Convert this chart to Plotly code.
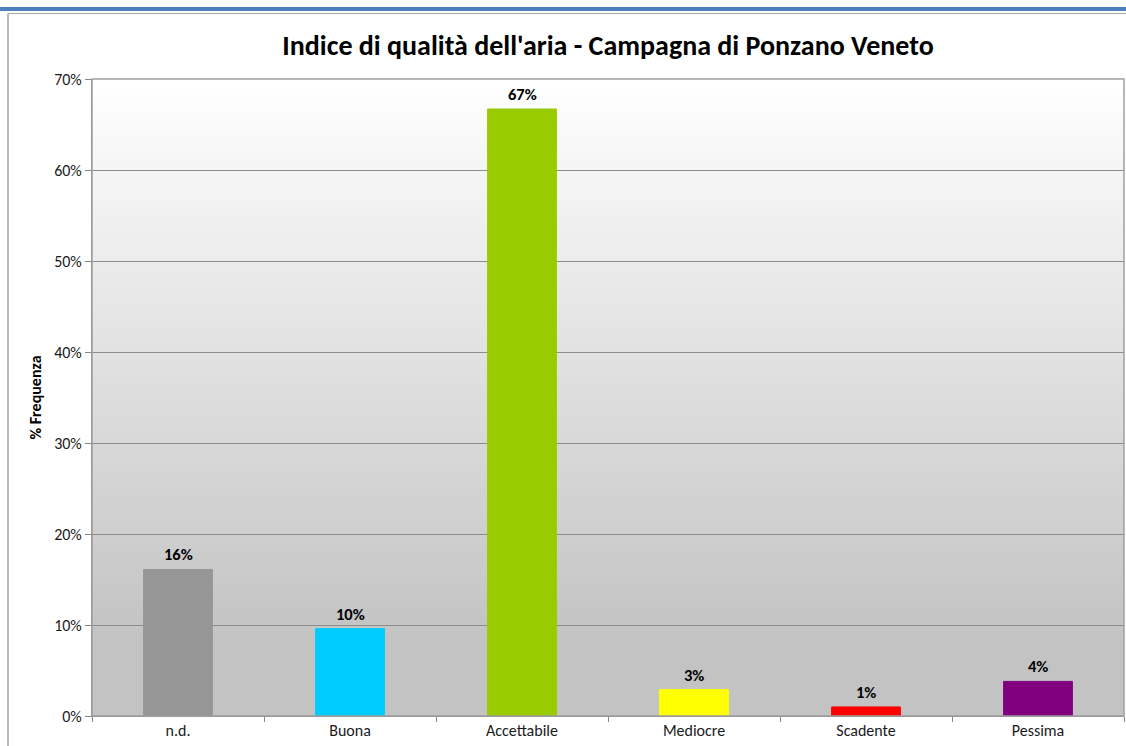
import plotly.graph_objects as go

categories = ["n.d.", "Buona", "Accettabile", "Mediocre", "Scadente", "Pessima"]
values = [16.1, 9.6, 66.7, 2.9, 1.0, 3.8]
bar_colors = ["#969696", "#00ccff", "#99cc00", "#ffff00", "#ff0000", "#800080"]
y_ticks = [0, 10, 20, 30, 40, 50, 60, 70]
y_tick_labels = ["0%", "10%", "20%", "30%", "40%", "50%", "60%", "70%"]
labels = [f"{round(v)}%" for v in values]

FONT = "Carlito, Lato, 'Open Sans', sans-serif"

fig = go.Figure()
fig.add_trace(go.Bar(
    x=categories, y=values, width=0.4,
    marker=dict(color=bar_colors, line=dict(color=bar_colors, width=1)),
    hoverinfo="skip",
))

annotations = [
    dict(x=c, y=v, xref="x", yref="y", text=f"<b>{t}</b>", showarrow=False,
         yanchor="bottom", yshift=3,
         font=dict(family=FONT, size=16.5, color="#000000"))
    for c, v, t in zip(categories, values, labels)
]

# gradient background strips (white top -> grey bottom)
shapes = []
n = 80
top_c = (255, 255, 255)
bot_c = (195, 195, 195)
for i in range(n):
    y0 = i / n
    y1 = (i + 1) / n
    t = 1 - (y0 + y1) / 2  # 0 at top, 1 at bottom
    f = min(1.0, t / 0.88)
    c = tuple(round(top_c[k] + (bot_c[k] - top_c[k]) * f) for k in range(3))
    shapes.append(dict(type="rect", xref="paper", yref="paper", x0=0, x1=1, y0=y0, y1=y1 + 0.002,
                       fillcolor=f"rgb{c}", line=dict(width=0), layer="below"))

W, H = 1126, 746
L, R, T, B = 92, 2, 79, 30
pw, ph = W - L - R, H - T - B

def px(x):
    return (x - L) / pw

def py(y):
    return (H - B - y) / ph

# plot area border
shapes.append(dict(type="rect", xref="paper", yref="paper", x0=0, x1=1, y0=0, y1=1,
                   line=dict(color="#a0a0a0", width=1.5), layer="above"))
# blue top band and frame lines
shapes.append(dict(type="line", xref="paper", yref="paper", x0=px(-5), x1=px(1130), y0=py(9), y1=py(9),
                   line=dict(color="#4f81bd", width=4)))
shapes.append(dict(type="line", xref="paper", yref="paper", x0=px(8), x1=px(1130), y0=py(13.5), y1=py(13.5),
                   line=dict(color="#a6a6a6", width=1)))
shapes.append(dict(type="line", xref="paper", yref="paper", x0=px(8), x1=px(8), y0=py(13.5), y1=py(760),
                   line=dict(color="#a6a6a6", width=1.5)))

fig.update_layout(
    width=W, height=H,
    margin=dict(l=L, r=R, t=T, b=B),
    paper_bgcolor="#ffffff", plot_bgcolor="rgba(0,0,0,0)",
    showlegend=False,
    shapes=shapes,
    annotations=annotations,
    title=dict(text="Indice di qualità dell'aria - Campagna di Ponzano Veneto",
               x=0.5, xref="paper", xanchor="center", y=1 - 45 / H, yanchor="middle",
               font=dict(family=FONT, size=28, color="#000000", weight="bold")),
    xaxis=dict(
        type="category", range=[-0.5, 5.5], tickson="boundaries",
        ticks="outside", ticklen=5, tickcolor="#868686",
        showline=True, linecolor="#868686", linewidth=1,
        showgrid=False,
        tickfont=dict(family=FONT, size=16, color="#1a1a1a"),
    ),
    yaxis=dict(
        range=[0, 70], tickvals=y_ticks, ticktext=y_tick_labels,
        ticks="outside", ticklen=6, tickcolor="#868686",
        showgrid=True, gridcolor="#8c8c8c", gridwidth=1,
        showline=True, linecolor="#868686", linewidth=1,
        zeroline=False,
        tickfont=dict(family=FONT, size=16, color="#1a1a1a"),
        title=dict(text="% Frequenza", standoff=8,
                   font=dict(family=FONT, size=16, color="#000000", weight="bold")),
    ),
    bargap=0.6,
)

fig.write_html("out.html")
